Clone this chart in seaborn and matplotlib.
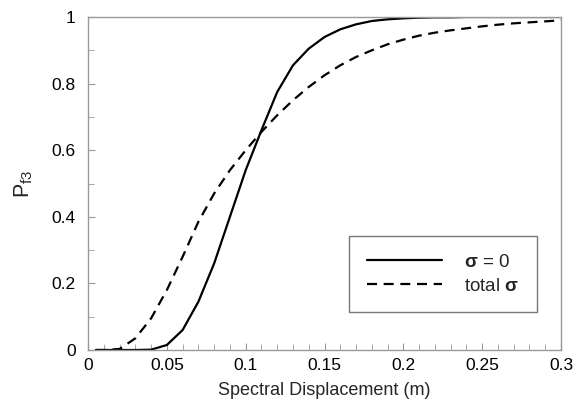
import matplotlib
matplotlib.use('Agg')
import matplotlib.pyplot as plt
import seaborn as sns
import pandas as pd

# --- data ---
displacement = [0.005, 0.01, 0.02, 0.03, 0.04, 0.05, 0.06, 0.07, 0.08, 0.09,
                0.10, 0.11, 0.12, 0.13, 0.14, 0.15, 0.16, 0.17, 0.18, 0.19,
                0.20, 0.21, 0.22, 0.23, 0.24, 0.25, 0.26, 0.27, 0.28, 0.29, 0.30]
p_sigma0 = [0.0, 0.0, 0.0, 0.0, 0.001, 0.015, 0.06, 0.145, 0.26, 0.40,
            0.54, 0.66, 0.775, 0.855, 0.905, 0.94, 0.963, 0.978, 0.988, 0.993,
            0.996, 0.998, 0.999, 0.999, 1.0, 1.0, 1.0, 1.0, 1.0, 1.0, 1.0]
p_total = [0.0, 0.0, 0.003, 0.035, 0.095, 0.18, 0.28, 0.385, 0.47, 0.54,
           0.60, 0.655, 0.705, 0.75, 0.79, 0.825, 0.855, 0.88, 0.90, 0.918,
           0.932, 0.944, 0.953, 0.96, 0.966, 0.972, 0.977, 0.981, 0.984, 0.987, 0.99]
series_labels = [r"$\mathbf{\sigma}$ = 0", r"total $\mathbf{\sigma}$"]
x_ticks = [0, 0.05, 0.1, 0.15, 0.2, 0.25, 0.3]
x_tick_labels = ["0", "0.05", "0.1", "0.15", "0.2", "0.25", "0.3"]
y_ticks = [0, 0.2, 0.4, 0.6, 0.8, 1]
y_tick_labels = ["0", "0.2", "0.4", "0.6", "0.8", "1"]

sns.set_style("ticks")
plt.rcParams['font.family'] = ['Liberation Sans', 'DejaVu Sans']
plt.rcParams['mathtext.fontset'] = 'custom'
plt.rcParams['mathtext.rm'] = 'Liberation Sans'
plt.rcParams['mathtext.it'] = 'Liberation Sans'
plt.rcParams['mathtext.bf'] = 'Liberation Sans:bold'

df = pd.DataFrame({"x": displacement, "s0": p_sigma0, "tot": p_total})

fig = plt.figure(figsize=(5.76, 4.05), dpi=100)
ax = fig.add_axes([0.1528, 0.1358, 0.8212, 0.8222])

sns.lineplot(data=df, x="x", y="s0", ax=ax, color="black", lw=1.6,
             label=series_labels[0])
sns.lineplot(data=df, x="x", y="tot", ax=ax, color="black", lw=1.6,
             label=series_labels[1])
ax.lines[1].set_dashes([4.5, 3])

ax.set_xlim(0, 0.3)
ax.set_ylim(0, 1)
ax.set_xticks(x_ticks, x_tick_labels)
ax.set_yticks(y_ticks, y_tick_labels)
ax.set_xticks([i / 100 for i in range(31)], minor=True)
ax.set_yticks([i / 10 for i in range(11)], minor=True)

grey = "#999999"
for sp in ax.spines.values():
    sp.set_visible(True)
    sp.set_color(grey)
    sp.set_linewidth(1.0)
ax.tick_params(which="both", direction="in", color=grey, labelsize=12.5,
               labelcolor="black")
ax.tick_params(axis="x", pad=6)
ax.tick_params(axis="y", pad=9)
ax.tick_params(which="major", length=5)
ax.tick_params(which="minor", length=4)

ax.set_xlabel("Spectral Displacement (m)", fontsize=13, labelpad=6)
ax.set_ylabel(r"P$_\mathregular{f3}$", fontsize=15.5, labelpad=12)

leg = ax.legend(loc="lower right", bbox_to_anchor=(0.97, 0.085), fontsize=13.5,
                frameon=True, fancybox=False, handlelength=4.0,
                borderpad=0.95, labelspacing=0.35, handletextpad=1.2)
leg.get_frame().set_edgecolor("#555555")
leg.get_frame().set_linewidth(1.0)
leg.get_lines()[1].set_dashes([4.5, 3])

fig.savefig("out.png", dpi=100)
